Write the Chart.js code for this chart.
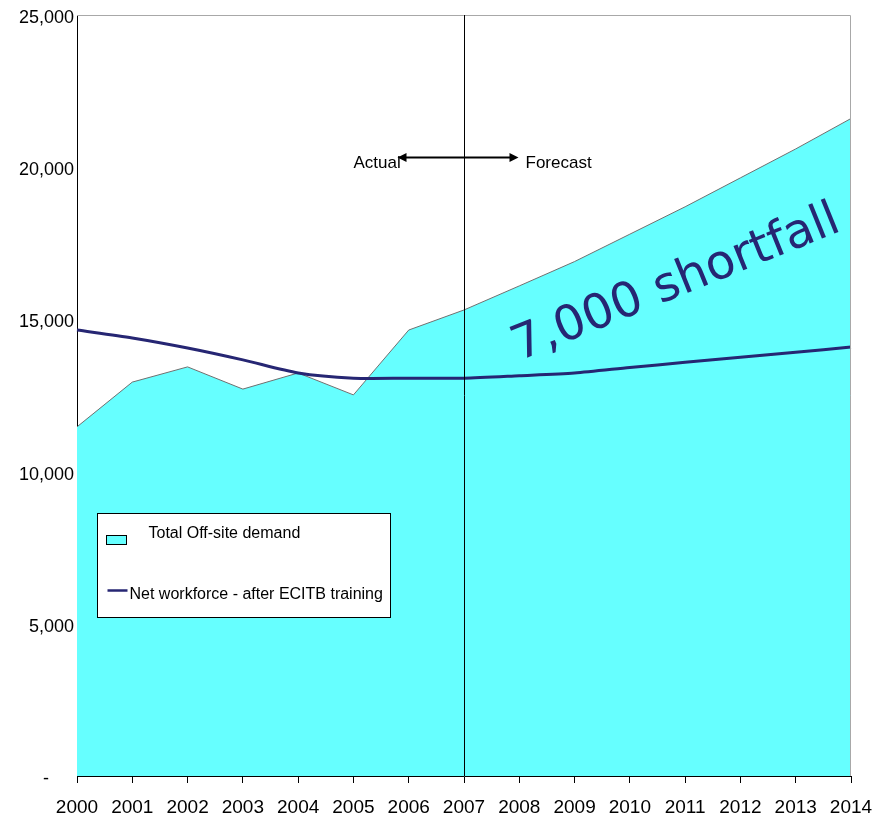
<!DOCTYPE html>
<html>
<head>
<meta charset="utf-8">
<script src="https://cdn.jsdelivr.net/npm/chart.js@4.4.0/dist/chart.umd.min.js"></script>
<style>
html,body{margin:0;padding:0;background:#fff;}
#wrap{width:879px;height:819px;position:relative;}
</style>
</head>
<body>
<div id="wrap"><canvas id="c" width="879" height="819"></canvas></div>
<script>
// ---- data ----
const years = ['2000','2001','2002','2003','2004','2005','2006','2007','2008','2009','2010','2011','2012','2013','2014'];
const totalOffsiteDemand = [11470, 12940, 13440, 12710, 13240, 12520, 14650, 15310, 16100, 16900, 17800, 18700, 19650, 20600, 21600];
const netWorkforce = [14650, 14390, 14060, 13670, 13240, 13070, 13070, 13070, 13150, 13240, 13420, 13590, 13760, 13920, 14090];
const seriesNames = ['Total Off-site demand', 'Net workforce - after ECITB training'];
const dividerYear = '2007';
const actualLabel = 'Actual';
const forecastLabel = 'Forecast';
const shortfallLabel = '7,000 shortfall';

const AREA_COLOR = '#66FFFF';
const LINE_COLOR = '#262673';

const annotations = {
  id: 'annotations',
  afterDatasetsDraw(chart) {
    const {ctx, chartArea: a, scales: {x}} = chart;
    ctx.save();
    // plot frame (top/right)
    ctx.strokeStyle = '#a8a8a8';
    ctx.lineWidth = 1;
    ctx.beginPath();
    ctx.moveTo(a.left, a.top + 0.5);
    ctx.lineTo(a.right - 0.5, a.top + 0.5);
    ctx.lineTo(a.right - 0.5, a.bottom);
    ctx.stroke();

    // divider line
    const xd = Math.round(x.getPixelForValue(years.indexOf(dividerYear))) + 0.5;
    ctx.strokeStyle = '#000';
    ctx.lineWidth = 1;
    ctx.beginPath();
    ctx.moveTo(xd, a.top);
    ctx.lineTo(xd, a.bottom);
    ctx.stroke();

    // arrow
    const ay = a.top + 142.5;
    const x1 = xd - 67, x2 = xd + 54;
    ctx.lineWidth = 2;
    ctx.beginPath();
    ctx.moveTo(x1 + 4, ay);
    ctx.lineTo(x2 - 4, ay);
    ctx.stroke();
    ctx.fillStyle = '#000';
    ctx.beginPath();
    ctx.moveTo(x1, ay); ctx.lineTo(x1 + 9, ay - 4.5); ctx.lineTo(x1 + 9, ay + 4.5); ctx.closePath(); ctx.fill();
    ctx.beginPath();
    ctx.moveTo(x2, ay); ctx.lineTo(x2 - 9, ay - 4.5); ctx.lineTo(x2 - 9, ay + 4.5); ctx.closePath(); ctx.fill();

    ctx.font = '17px "Liberation Sans", Arial, sans-serif';
    ctx.textBaseline = 'middle';
    ctx.textAlign = 'left';
    ctx.fillStyle = '#000';
    ctx.fillText(actualLabel, xd - 111, ay + 6);
    ctx.fillText(forecastLabel, xd + 61, ay + 6);

    // shortfall text
    ctx.save();
    ctx.translate(a.left + 442, a.top + 346);
    ctx.rotate(-22 * Math.PI / 180);
    ctx.font = '48px "DejaVu Sans", Verdana, sans-serif';
    ctx.fillStyle = LINE_COLOR;
    ctx.textBaseline = 'alphabetic';
    ctx.fillText(shortfallLabel, 0, 0);
    ctx.restore();

    // legend box
    const lx = a.left + 20.5, ly = a.top + 498.5, lw = 293, lh = 104;
    ctx.fillStyle = '#fff';
    ctx.fillRect(lx, ly, lw, lh);
    ctx.strokeStyle = '#000';
    ctx.lineWidth = 1;
    ctx.strokeRect(lx, ly, lw, lh);
    // area swatch
    ctx.fillStyle = AREA_COLOR;
    ctx.fillRect(lx + 9, ly + 22, 20, 9);
    ctx.strokeRect(lx + 9, ly + 22, 20, 9);
    // line swatch
    ctx.strokeStyle = LINE_COLOR;
    ctx.lineWidth = 2.5;
    ctx.beginPath();
    ctx.moveTo(lx + 10, ly + 77);
    ctx.lineTo(lx + 30, ly + 77);
    ctx.stroke();
    ctx.fillStyle = '#000';
    ctx.font = '16px "Liberation Sans", Arial, sans-serif';
    ctx.textBaseline = 'middle';
    ctx.fillText(seriesNames[0], lx + 51, ly + 20);
    ctx.fillText(seriesNames[1], lx + 32, ly + 81);
    ctx.restore();
  }
};

new Chart(document.getElementById('c'), {
  type: 'line',
  data: {
    labels: years,
    datasets: [
      {
        label: seriesNames[1],
        data: netWorkforce,
        borderColor: LINE_COLOR,
        borderWidth: 3,
        pointRadius: 0,
        fill: false,
        tension: 0.25,
        order: 0
      },
      {
        label: seriesNames[0],
        data: totalOffsiteDemand,
        borderColor: '#707070',
        borderWidth: 1,
        backgroundColor: AREA_COLOR,
        pointRadius: 0,
        fill: 'origin',
        tension: 0,
        order: 1
      }
    ]
  },
  options: {
    responsive: false,
    animation: false,
    devicePixelRatio: 1,
    layout: { padding: { left: 0, right: 28, top: 15, bottom: 0 } },
    plugins: { legend: { display: false }, tooltip: { enabled: false } },
    scales: {
      x: {
        offset: false,
        grid: { drawOnChartArea: false, drawTicks: true, tickLength: 7, color: '#000', offset: false },
        border: { color: '#000', width: 1 },
        ticks: {
          color: '#000',
          font: { family: '"Liberation Sans", Arial, sans-serif', size: 19 },
          padding: 13,
          maxRotation: 0,
          autoSkip: false
        },
        afterFit(scale) { scale.height = 43; scale.paddingLeft = 0; scale.paddingRight = 0; }
      },
      y: {
        min: 0,
        max: 25000,
        grid: { display: false, drawTicks: false },
        border: { color: '#000', width: 1 },
        ticks: {
          stepSize: 5000,
          color: '#000',
          font: { family: '"Liberation Sans", Arial, sans-serif', size: 18 },
          padding: 3,
          labelOffset: 3,
          callback: v => v === 0 ? '-     ' : v.toLocaleString('en-US')
        },
        afterFit(scale) { scale.width = 77; scale.paddingTop = 0; scale.paddingBottom = 0; }
      }
    }
  },
  plugins: [annotations]
});
</script>
</body>
</html>
